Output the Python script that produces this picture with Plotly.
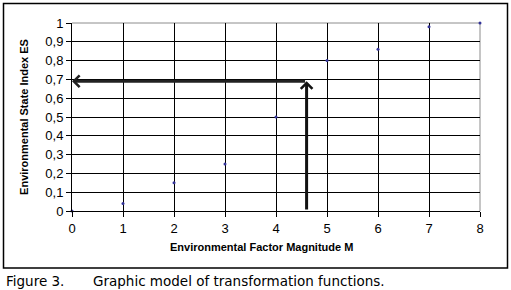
import plotly.graph_objects as go

# data
magnitude = [0, 1, 2, 3, 4, 5, 6, 7, 8]
state_index = [0.0, 0.04, 0.15, 0.25, 0.5, 0.8, 0.86, 0.98, 1.0]
target_m = 4.6
target_es = 0.69
x_ticks = [0, 1, 2, 3, 4, 5, 6, 7, 8]
y_ticks = [0, 0.1, 0.2, 0.3, 0.4, 0.5, 0.6, 0.7, 0.8, 0.9, 1]
x_title = "Environmental Factor Magnitude M"
y_title = "Environmental State Index ES"
caption_label = "Figure 3."
caption_text = "Graphic model of transformation functions."

W, H = 511, 290
L, R, T, B = 72, 31, 23, 79
pw, ph = W - L - R, H - T - B

def px(xp):
    return (xp - L) / pw

def py(yp):
    return (H - B - yp) / ph

fig = go.Figure()
fig.add_trace(go.Scatter(
    x=magnitude, y=state_index, mode="markers",
    marker=dict(color="#333399", size=3), cliponaxis=False, showlegend=False,
))

fig.update_layout(
    width=W, height=H,
    margin=dict(l=L, r=R, t=T, b=B, pad=0),
    paper_bgcolor="white", plot_bgcolor="white",
    separators=", ",
    font=dict(family="Liberation Sans, Arial", color="black"),
    xaxis=dict(
        range=[0, 8], tickvals=x_ticks, showgrid=True, gridcolor="black", gridwidth=1,
        showline=True, linecolor="black", linewidth=1, ticks="outside", ticklen=5,
        tickcolor="black", tickfont=dict(size=13), zeroline=False,
    ),
    yaxis=dict(
        range=[0, 1], tickvals=y_ticks, showgrid=True, gridcolor="black", gridwidth=1,
        showline=True, linecolor="black", linewidth=1, ticks="outside", ticklen=5,
        tickcolor="black", tickfont=dict(size=13), zeroline=False,
        title=dict(text="<b>" + y_title + "</b>", font=dict(size=11), standoff=14),
    ),
)

# x axis title
fig.add_annotation(x=px(261), y=py(247), xref="paper", yref="paper",
                   text="<b>" + x_title + "</b>", showarrow=False,
                   xanchor="center", yanchor="middle", font=dict(size=11))

# gray top and right borders of plot area
fig.add_shape(type="line", xref="paper", yref="paper", x0=0, x1=1, y0=1, y1=1,
              line=dict(color="#8c8c8c", width=1), layer="below")
fig.add_shape(type="line", xref="paper", yref="paper", x0=1, x1=1, y0=0, y1=1,
              line=dict(color="#8c8c8c", width=1), layer="below")

# outer frame
fig.add_shape(type="rect", xref="paper", yref="paper",
              x0=px(3.5), x1=px(507.5), y0=py(3.5), y1=py(268),
              line=dict(color="black", width=1.5), fillcolor="rgba(0,0,0,0)")

# arrows
fig.add_annotation(x=target_m, y=target_es, ax=target_m, ay=0, xref="x", yref="y",
                   axref="x", ayref="y", showarrow=True, arrowhead=4, arrowsize=0.75,
                   arrowwidth=3, arrowcolor="#111111", text="")
fig.add_annotation(x=0, y=target_es, ax=target_m, ay=target_es, xref="x", yref="y",
                   axref="x", ayref="y", showarrow=True, arrowhead=4, arrowsize=0.75,
                   arrowwidth=3, arrowcolor="#222222", text="")

# caption
fig.add_annotation(x=px(4), y=py(281), xref="paper", yref="paper", text=caption_label,
                   showarrow=False, xanchor="left", yanchor="middle",
                   font=dict(family="DejaVu Sans", size=13.5, color="black"))
fig.add_annotation(x=px(91), y=py(281), xref="paper", yref="paper", text=caption_text,
                   showarrow=False, xanchor="left", yanchor="middle",
                   font=dict(family="DejaVu Sans", size=13.5, color="black"))

fig.write_html("out.html", config={"displayModeBar": False},
               post_script="document.body.style.margin='0';document.body.style.overflow='hidden';")
